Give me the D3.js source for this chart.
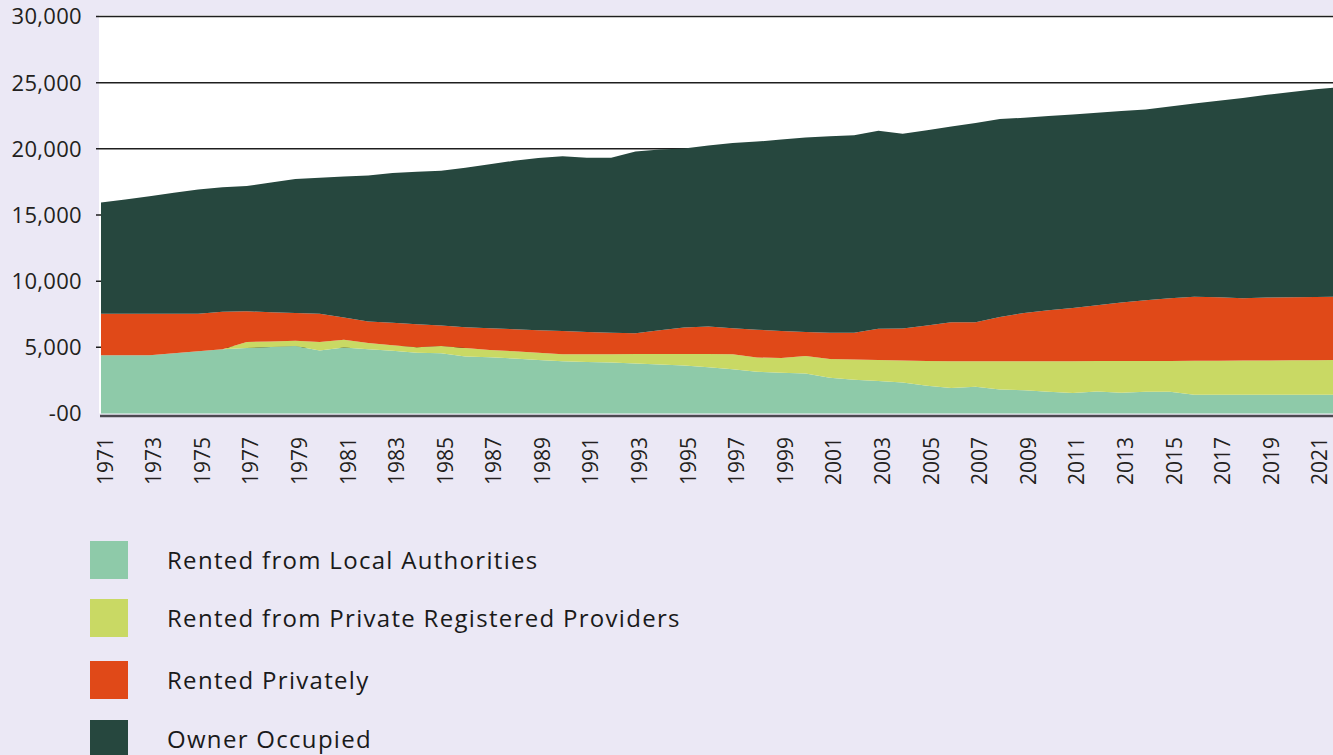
<!DOCTYPE html>
<html>
<head>
<meta charset="utf-8">
<script src="https://cdn.jsdelivr.net/npm/d3@7"></script>
<style>
  body { margin: 0; background: #ebe8f5; }
  svg { display: block; font-family: "Open Sans", "Noto Sans", sans-serif; }
</style>
</head>
<body>
<svg id="chart" width="1333" height="755"></svg>
<script>
var years = d3.range(1971, 2023);

var localAuthorities = [4400, 4400, 4400, 4550, 4700, 4850, 4950, 5020, 5100, 4770,
    4980, 4850, 4750, 4600, 4550, 4300, 4250, 4150, 4050, 3950,
    3900, 3850, 3780, 3700, 3620, 3500, 3350, 3150, 3080, 3020,
    2700, 2550, 2450, 2350, 2100, 1920, 2020, 1820, 1750, 1650,
    1550, 1670, 1560, 1640, 1640, 1410, 1420, 1420, 1420, 1420,
    1420, 1420];

var registeredProviders = [0, 0, 0, 0, 0, 0, 450, 430, 400, 630,
    600, 470, 400, 400, 550, 650, 550, 550, 550, 520,
    570, 630, 720, 800, 880, 1000, 1130, 1080, 1120, 1330,
    1420, 1530, 1600, 1650, 1860, 2030, 1930, 2130, 2200, 2300,
    2400, 2290, 2400, 2330, 2330, 2570, 2570, 2580, 2590, 2600,
    2610, 2630];

var rentedPrivately = [3130, 3130, 3130, 2980, 2830, 2830, 2320, 2210, 2100, 2130,
    1670, 1630, 1700, 1750, 1550, 1570, 1640, 1670, 1700, 1760,
    1690, 1620, 1570, 1800, 2000, 2080, 1970, 2100, 2030, 1800,
    1990, 2020, 2350, 2420, 2690, 2950, 2950, 3350, 3650, 3850,
    4030, 4220, 4420, 4590, 4730, 4850, 4790, 4710, 4750, 4770,
    4770, 4770];

var ownerOccupied = [8420, 8650, 8890, 9150, 9400, 9420, 9480, 9790, 10120, 10290,
    10650, 11040, 11330, 11520, 11690, 12060, 12390, 12730, 13000, 13210,
    13160, 13220, 13720, 13650, 13520, 13670, 14000, 14220, 14470, 14700,
    14840, 14930, 14970, 14720, 14750, 14780, 15060, 14950, 14750, 14680,
    14620, 14540, 14470, 14410, 14500, 14590, 14850, 15140, 15320, 15510,
    15700, 15830];

var seriesKeys = ["la", "prp", "private", "owner"];
var seriesLabels = ["Rented from Local Authorities", "Rented from Private Registered Providers",
    "Rented Privately", "Owner Occupied"];
var seriesColors = ["#8ecaa9", "#c9d964", "#e04918", "#26473e"];

var yTicks = [0, 5000, 10000, 15000, 20000, 25000, 30000];
var yTickLabels = ["-00", "5,000", "10,000", "15,000", "20,000", "25,000", "30,000"];
var xTickYears = d3.range(1971, 2022, 2);

var svg = d3.select("#chart");

var table = years.map(function(y, i) {
    return { year: y, la: localAuthorities[i], prp: registeredProviders[i],
        private: rentedPrivately[i], owner: ownerOccupied[i] };
});

var x = d3.scaleLinear().domain([1971, 2022]).range([101, 1340]);
var y = d3.scaleLinear().domain([0, 30000]).range([413.5, 16.5]);

// white plot background
svg.append("rect")
    .attr("x", 99).attr("y", 15)
    .attr("width", 1333 - 99).attr("height", 413.5 - 15)
    .attr("fill", "#fff");

// gridlines under the areas
svg.append("g")
    .selectAll("line")
    .data(yTicks.slice(1))
    .enter().append("line")
    .attr("x1", 96).attr("x2", 1333)
    .attr("y1", function(d) { return y(d); })
    .attr("y2", function(d) { return y(d); })
    .attr("stroke", "#1e1e1e")
    .attr("stroke-width", 1.5);

var stack = d3.stack().keys(seriesKeys);
var layers = stack(table);

var area = d3.area()
    .x(function(d) { return x(d.data.year); })
    .y0(function(d) { return y(d[0]); })
    .y1(function(d) { return y(d[1]); });

svg.append("g")
    .selectAll("path")
    .data(layers)
    .enter().append("path")
    .attr("d", area)
    .attr("fill", function(d, i) { return seriesColors[i]; });

// bottom axis line
svg.append("line")
    .attr("x1", 100).attr("x2", 1333)
    .attr("y1", 416).attr("y2", 416)
    .attr("stroke", "#4b4950")
    .attr("stroke-width", 2.5);

// y labels
svg.append("g")
    .selectAll("text")
    .data(yTicks)
    .enter().append("text")
    .attr("x", 82)
    .attr("y", function(d) { return y(d); })
    .attr("dy", "0.36em")
    .attr("text-anchor", "end")
    .attr("font-size", 22)
    .attr("letter-spacing", 0.3)
    .attr("fill", "#231f20")
    .text(function(d, i) { return yTickLabels[i]; });

// x labels, rotated
svg.append("g")
    .selectAll("text")
    .data(xTickYears)
    .enter().append("text")
    .attr("transform", function(d) { return "translate(" + (x(d) + 4) + ",437) rotate(-90)"; })
    .attr("dy", "0.36em")
    .attr("text-anchor", "end")
    .attr("font-size", 21)
    .attr("fill", "#231f20")
    .text(function(d) { return d; });

// legend
var legendY = [541, 599, 661, 720];
var legend = svg.append("g")
    .selectAll("g")
    .data(seriesLabels)
    .enter().append("g")
    .attr("transform", function(d, i) { return "translate(90," + legendY[i] + ")"; });

legend.append("rect")
    .attr("width", 38).attr("height", 38)
    .attr("fill", function(d, i) { return seriesColors[i]; });

legend.append("text")
    .attr("x", 77).attr("y", 19)
    .attr("dy", "0.36em")
    .attr("font-size", 24)
    .attr("letter-spacing", 1.3)
    .attr("fill", "#1a1a1a")
    .text(function(d) { return d; });
</script>
</body>
</html>
